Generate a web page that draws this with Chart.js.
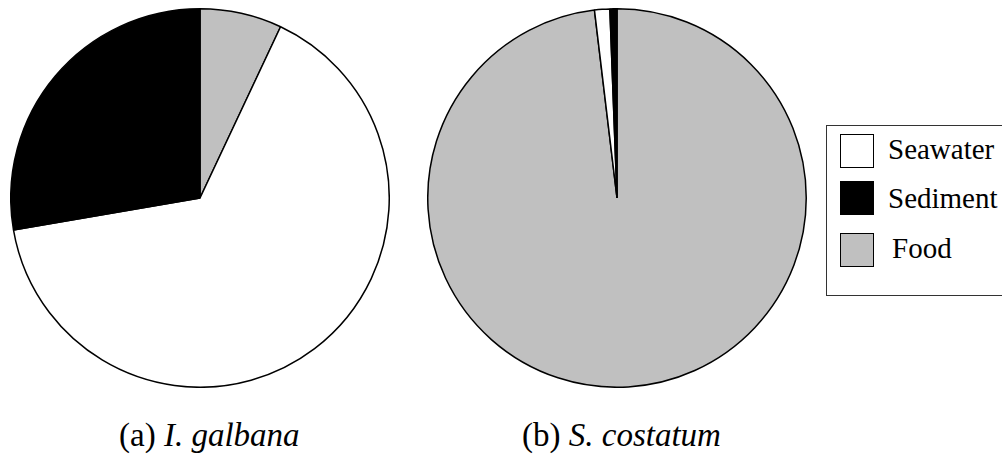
<!DOCTYPE html>
<html>
<head>
<meta charset="utf-8">
<script src="https://cdn.jsdelivr.net/npm/chart.js@4/dist/chart.umd.min.js"></script>
<style>
  body { margin: 0; background: #fff; font-family: "Liberation Serif", "Times New Roman", serif; }
  #wrap { position: relative; width: 1002px; height: 464px; overflow: hidden; }
  .pie { position: absolute; top: 8px; width: 380px; height: 380px; }
  #pieA { left: 10px; }
  #pieB { left: 427px; }
  .caption { position: absolute; top: 419px; font-size: 33px; line-height: 33px; color: #000; white-space: nowrap; }
  #legend { position: absolute; left: 826px; top: 125px; width: 190px; height: 171px;
            border: 1px solid #333; box-sizing: border-box; }
  .sw { position: absolute; left: 840px; width: 34px; height: 34px;
        border: 1.5px solid #000; box-sizing: border-box; }
  .lb { position: absolute; font-size: 29px; line-height: 29px; white-space: nowrap; color: #000; }
</style>
</head>
<body>
<div id="wrap">
  <div class="pie" id="pieA"><canvas id="chartA"></canvas></div>
  <div class="pie" id="pieB"><canvas id="chartB"></canvas></div>
  <div class="caption" style="left:119px">(a) <i>I. galbana</i></div>
  <div class="caption" style="left:522px">(b) <i>S. costatum</i></div>
  <div id="legend"></div>
</div>
<script>
// slices go clockwise from 12 o'clock: Food, Seawater, Sediment
var categories = ['Food', 'Seawater', 'Sediment'];
var colours = ['#c0c0c0', '#ffffff', '#000000'];
var galbanaValues = [7.0, 65.3, 27.7];
var costatumValues = [98.1, 1.3, 0.6];
var legendOrder = ['Seawater', 'Sediment', 'Food'];

function makePie(id, values) {
  var ctx = document.getElementById(id).getContext('2d');
  return new Chart(ctx, {
    type: 'pie',
    data: {
      labels: categories,
      datasets: [{
        data: values,
        backgroundColor: colours,
        borderColor: '#000',
        borderWidth: 1.5
      }]
    },
    options: {
      responsive: true,
      maintainAspectRatio: false,
      animation: false,
      layout: { padding: 0 },
      plugins: { legend: { display: false }, tooltip: { enabled: false } }
    }
  });
}

makePie('chartA', galbanaValues);
makePie('chartB', costatumValues);

// legend drawn by hand, same layout as the figure
var wrap = document.getElementById('wrap');
var swTop = [134, 181, 233];
var lbTop = [135, 184, 234];
var lbLeft = [888, 888, 892];
for (var i = 0; i < legendOrder.length; i++) {
  var k = categories.indexOf(legendOrder[i]);
  var sw = document.createElement('div');
  sw.className = 'sw';
  sw.style.top = swTop[i] + 'px';
  sw.style.background = colours[k];
  wrap.appendChild(sw);
  var lb = document.createElement('div');
  lb.className = 'lb';
  lb.style.top = lbTop[i] + 'px';
  lb.style.left = lbLeft[i] + 'px';
  lb.textContent = legendOrder[i];
  wrap.appendChild(lb);
}
</script>
</body>
</html>
